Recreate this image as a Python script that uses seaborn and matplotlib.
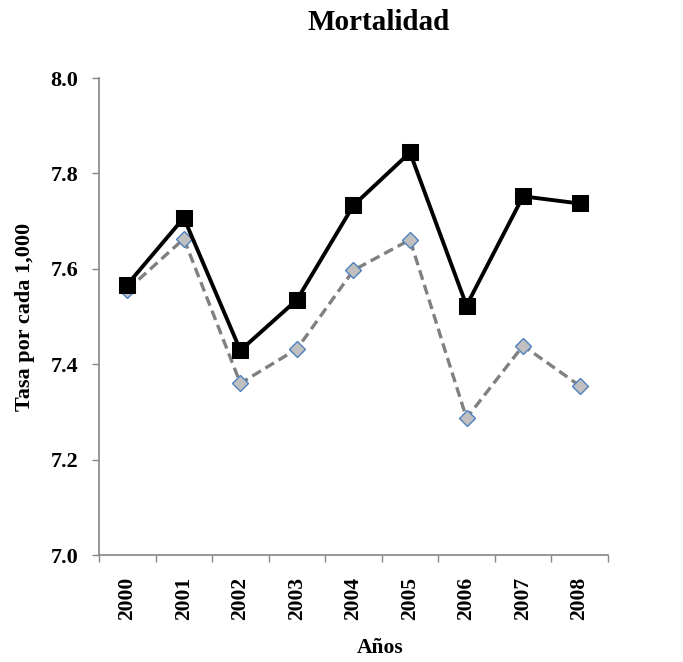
import pandas as pd
import matplotlib.pyplot as plt
import seaborn as sns
from matplotlib.ticker import FixedLocator

# Datos
years = [2000, 2001, 2002, 2003, 2004, 2005, 2006, 2007, 2008]
serie_a = [7.567, 7.707, 7.429, 7.535, 7.733, 7.844, 7.523, 7.752, 7.737]
serie_b = [7.556, 7.663, 7.360, 7.432, 7.597, 7.661, 7.287, 7.439, 7.355]
y_ticks = [7.0, 7.2, 7.4, 7.6, 7.8, 8.0]

df = pd.DataFrame({'year': years, 'a': serie_a, 'b': serie_b})

sns.set_style('white')
plt.rcParams['font.family'] = ['Liberation Serif', 'DejaVu Serif']
plt.rcParams['font.weight'] = 'bold'
plt.rcParams['text.color'] = 'black'
plt.rcParams['axes.labelcolor'] = 'black'
plt.rcParams['xtick.labelcolor'] = 'black'
plt.rcParams['ytick.labelcolor'] = 'black'

fig = plt.figure(figsize=(6.83, 6.62), dpi=100)
ax = fig.add_axes([0.145, 0.1616, 0.745, 0.7205])

sns.lineplot(data=df, x='year', y='b', ax=ax, color='#808080', linewidth=2.4,
             linestyle=(0, (3, 1.6)), marker='D', markersize=8,
             markerfacecolor='#C0C0C0', markeredgecolor='#4F81BD',
             markeredgewidth=1.0, zorder=2)
sns.lineplot(data=df, x='year', y='a', ax=ax, color='black', linewidth=2.8,
             marker='s', markersize=11.5, markerfacecolor='black',
             markeredgecolor='black', zorder=3)

ax.set_xlim(years[0] - 0.5, years[-1] + 0.5)
ax.set_ylim(7.0, 8.0)
ax.set_yticks(y_ticks)
ax.set_yticklabels([f'{v:.1f}' for v in y_ticks], fontsize=16, fontweight='bold')
ax.set_xticks(years)
ax.set_xticklabels([str(y) for y in years], rotation=90, fontsize=15.5, fontweight='bold')
ax.xaxis.set_minor_locator(FixedLocator([y - 0.5 for y in years] + [years[-1] + 0.5]))

ax.tick_params(axis='x', which='major', length=0, pad=16)
ax.tick_params(axis='x', which='minor', length=5, width=1, color='#868686', direction='out', bottom=True)
ax.tick_params(axis='y', which='major', length=5, width=1, color='#868686', direction='out', left=True, pad=10)

for s in ['top', 'right']:
    ax.spines[s].set_visible(False)
for s in ['left', 'bottom']:
    ax.spines[s].set_color('#868686')
    ax.spines[s].set_linewidth(1.2)

ax.set_xlabel('')
ax.set_ylabel('Tasa por cada 1,000', fontsize=16, fontweight='bold')
ax.yaxis.set_label_coords(-0.125, 0.5)
fig.text(380 / 683, 1 - 648 / 662, 'Años', ha='center', va='center',
         fontsize=15.5, fontweight='bold')
fig.text(379 / 683, 1 - 22 / 662, 'Mortalidad', ha='center', va='center',
         fontsize=21, fontweight='bold')

fig.savefig('out.png', dpi=100)
